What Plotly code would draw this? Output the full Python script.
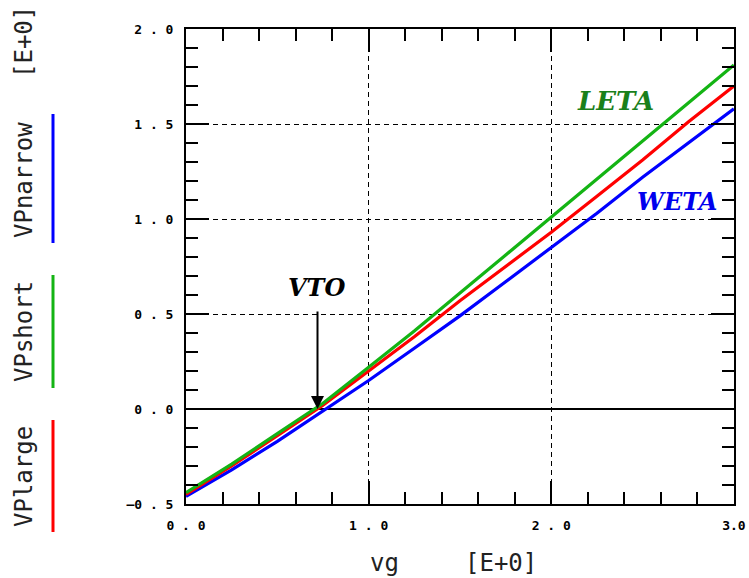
import plotly.graph_objects as go

# ---- data ----
vg = [0.0, 0.25, 0.5, 0.75, 1.0, 1.25, 1.5, 1.75, 2.0, 2.25, 2.5, 2.75, 3.0]
vp_large = [-0.45, -0.30, -0.14, 0.02, 0.20, 0.38, 0.57, 0.75, 0.93, 1.12, 1.31, 1.51, 1.70]
vp_short = [-0.44, -0.29, -0.13, 0.03, 0.22, 0.41, 0.61, 0.81, 1.01, 1.21, 1.41, 1.61, 1.81]
vp_narrow = [-0.46, -0.32, -0.17, -0.01, 0.15, 0.32, 0.49, 0.67, 0.85, 1.03, 1.22, 1.40, 1.58]

x_tickvals = [0, 1, 2, 3]
x_ticktext = ["0 . 0", "1 . 0", "2 . 0", "3.0"]
y_tickvals = [-0.5, 0, 0.5, 1.0, 1.5, 2.0]
y_ticktext = ["—0 . 5", "0 . 0", "0 . 5", "1 . 0", "1 . 5", "2 . 0"]

W, H = 749, 578
L, R, T, B = 186, 15, 29, 74
PW, PH = W - L - R, H - T - B


def px(xp):
    return (xp - L) / PW


def py(yp):
    return (H - B - yp) / PH


GREEN = "#14b414"
RED = "#ff0000"
BLUE = "#0000ff"
MONO = "DejaVu Sans Mono"

fig = go.Figure()
for name, ys, col in [("VPnarrow", vp_narrow, BLUE), ("VPlarge", vp_large, RED), ("VPshort", vp_short, GREEN)]:
    fig.add_trace(go.Scatter(x=vg, y=ys, mode="lines", name=name,
                             line=dict(color=col, width=3.2), showlegend=False))

axis_common = dict(
    ticks="inside", tickwidth=2, tickcolor="black", ticklen=23,
    showline=True, linecolor="black", linewidth=2, mirror="ticks",
    showgrid=True, gridcolor="black", gridwidth=1.4, griddash="5px,4px",
    tickfont=dict(family=MONO, size=13, color="black", weight="bold"),
    tickmode="array", ticklabeloverflow="allow", automargin=False,
)

fig.update_xaxes(range=[0, 3.0005], tickvals=x_tickvals, ticktext=x_ticktext,
                 zeroline=False, ticklabelstandoff=8,
                 minor=dict(tick0=0, dtick=0.2, ticks="inside", ticklen=12,
                            tickwidth=1.5, tickcolor="black", showgrid=False),
                 **axis_common)
fig.update_yaxes(range=[-0.5, 2.0], tickvals=y_tickvals, ticktext=y_ticktext,
                 zeroline=True, zerolinecolor="black", zerolinewidth=1.5,
                 ticklabelstandoff=8,
                 minor=dict(tick0=0, dtick=0.1, ticks="inside", ticklen=12,
                            tickwidth=1.5, tickcolor="black", showgrid=False),
                 **axis_common)

ann = []
# y-axis title pieces
for txt, yc in [("[E+0]", 42), ("VPnarrow", 180), ("VPshort", 331), ("VPlarge", 476)]:
    ann.append(dict(text=txt, xref="paper", yref="paper", x=px(24), y=py(yc),
                    textangle=-90, showarrow=False, xanchor="center", yanchor="middle",
                    font=dict(family=MONO, size=24, color="#222222")))
# x-axis title
ann.append(dict(text="vg", xref="paper", yref="paper", x=px(384), y=py(563),
                showarrow=False, xanchor="center", yanchor="middle",
                font=dict(family=MONO, size=24, color="#222222")))
ann.append(dict(text="[E+0]", xref="paper", yref="paper", x=px(501), y=py(563),
                showarrow=False, xanchor="center", yanchor="middle",
                font=dict(family=MONO, size=24, color="#222222")))
# labels
SERIF = "DejaVu Serif"
ann.append(dict(text="<b><i>LETA</i></b>", xref="paper", yref="paper", x=px(615), y=py(101),
                showarrow=False, xanchor="center", yanchor="middle",
                font=dict(family=SERIF, size=26, color="#1a801a")))
ann.append(dict(text="<b><i>WETA</i></b>", xref="paper", yref="paper", x=px(677), y=py(202),
                showarrow=False, xanchor="center", yanchor="middle",
                font=dict(family=SERIF, size=24, color="#0000ee")))
ann.append(dict(text="<b><i>VTO</i></b>", xref="paper", yref="paper", x=px(316), y=py(287),
                showarrow=False, xanchor="center", yanchor="middle",
                font=dict(family=SERIF, size=24, color="black")))
# arrow to VTO
ann.append(dict(text="", x=0.72, y=0, xref="x", yref="y", ax=0, ay=-99,
                showarrow=True, arrowhead=2, arrowsize=1.3, arrowwidth=2, arrowcolor="black"))

shapes = []
for col, y0, y1 in [(BLUE, 114, 243), (GREEN, 275, 388), (RED, 420, 532)]:
    shapes.append(dict(type="line", xref="paper", yref="paper", x0=px(53), x1=px(53),
                       y0=py(y0), y1=py(y1), line=dict(color=col, width=3)))

fig.update_layout(width=W, height=H, margin=dict(l=L, r=R, t=T, b=B),
                  plot_bgcolor="white", paper_bgcolor="white",
                  annotations=ann, shapes=shapes)

fig.write_html("out.html")
